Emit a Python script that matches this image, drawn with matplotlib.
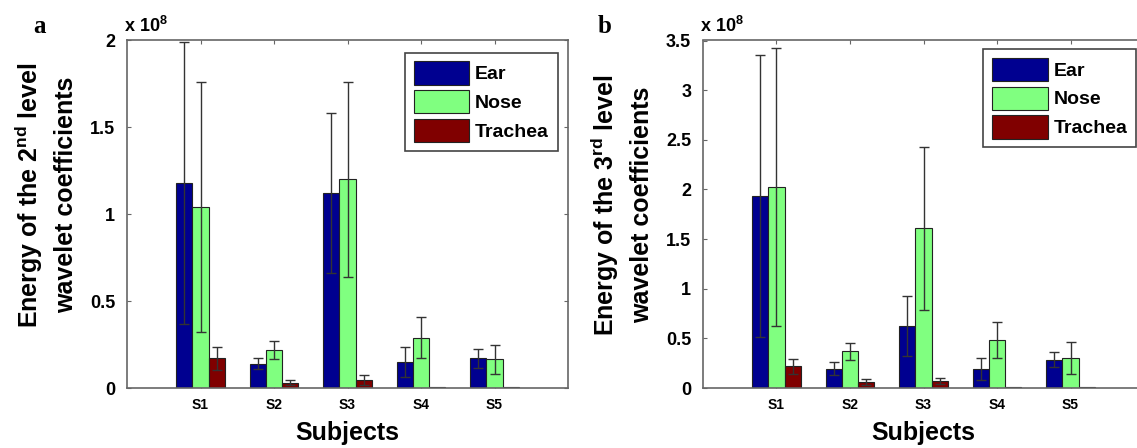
import matplotlib
matplotlib.use("Agg")
import matplotlib.pyplot as plt
import numpy as np
from matplotlib.ticker import FormatStrFormatter

plt.rcParams['font.family'] = ['Liberation Sans', 'DejaVu Sans']
plt.rcParams['font.weight'] = 'bold'
plt.rcParams['mathtext.default'] = 'regular'

# values in units of 1e8
subjects = ["S1", "S2", "S3", "S4", "S5"]
series = ["Ear", "Nose", "Trachea"]
colors = ["#000090", "#80ff80", "#800000"]

ear_a = [1.18, 0.14, 1.12, 0.15, 0.17]
ear_a_err = [0.81, 0.033, 0.46, 0.087, 0.053]
nose_a = [1.04, 0.22, 1.20, 0.29, 0.165]
nose_a_err = [0.72, 0.053, 0.56, 0.116, 0.085]
trachea_a = [0.17, 0.03, 0.045, 0.004, 0.004]
trachea_a_err = [0.068, 0.015, 0.03, 0.0, 0.0]

ear_b = [1.93, 0.195, 0.625, 0.195, 0.285]
ear_b_err = [1.42, 0.064, 0.30, 0.11, 0.075]
nose_b = [2.02, 0.37, 1.61, 0.48, 0.30]
nose_b_err = [1.40, 0.087, 0.82, 0.18, 0.163]
trachea_b = [0.22, 0.057, 0.067, 0.01, 0.01]
trachea_b_err = [0.075, 0.03, 0.03, 0.0, 0.0]

W, H = 1137, 448
fig = plt.figure(figsize=(W / 100, H / 100), dpi=100)


def draw_panel(left_px, vals, errs, ymax, yticks, ylab1, legend_xy, ylab_y):
    ax = fig.add_axes([left_px / W, 60 / H, 441 / W, 347.5 / H])
    x = np.arange(1, len(subjects) + 1)
    width = 0.22
    offsets = [-0.22, 0.0, 0.22]
    for v, e, c, off, name in zip(vals, errs, colors, offsets, series):
        e = np.array(e)
        ax.bar(x + off, v, width, color=c, edgecolor="#222222", linewidth=0.8,
               label=name, zorder=2)
        mask = e > 0
        ax.errorbar((x + off)[mask], np.array(v)[mask], yerr=e[mask], fmt="none",
                    ecolor="#333333", elinewidth=1.0, capsize=3.5, capthick=1.0,
                    zorder=3)
    ax.set_xlim(0, 6)
    ax.set_ylim(0, ymax)
    ax.set_xticks(x)
    ax.set_xticklabels(subjects, fontsize=10, fontweight="bold")
    ax.set_yticks(yticks)
    ax.yaxis.set_major_formatter(FormatStrFormatter("%g"))
    for lab in ax.get_yticklabels():
        lab.set_fontsize(13)
        lab.set_fontweight("bold")
    ax.tick_params(axis="both", direction="in", top=True, right=True,
                   length=3, color="#666666")
    ax.tick_params(axis="y", pad=8.5)
    ax.tick_params(axis="x", pad=7)
    for s in ax.spines.values():
        s.set_color("#666666")
        s.set_linewidth(1.2)
    ax.set_xlabel("Subjects", fontsize=18, fontweight="bold", labelpad=7)

    leg = ax.legend(loc="upper right", bbox_to_anchor=legend_xy, borderaxespad=0,
                    handlelength=2.85, handleheight=1.45,
                    labelspacing=0.3, handletextpad=0.3, borderpad=0.45,
                    fancybox=False, framealpha=1, prop={"size": 14, "weight": "bold"})
    leg.get_frame().set_edgecolor("#444444")
    leg.get_frame().set_linewidth(1.2)

    ax.text(-3 / 441, 1.012, r"x 10$^{8}$", transform=ax.transAxes,
            fontsize=13, fontweight="bold", ha="left", va="bottom")

    yc = 1 - ylab_y / H
    fig.text((left_px - 82) / W, yc, ylab1, rotation=90, ha="right", va="center",
             fontsize=18, fontweight="bold")
    fig.text((left_px - 49) / W, yc, "wavelet coefficients", rotation=90,
             ha="right", va="center", fontsize=18, fontweight="bold")
    return ax


draw_panel(127, [ear_a, nose_a, trachea_a], [ear_a_err, nose_a_err, trachea_a_err],
           2.0, [0, 0.5, 1, 1.5, 2], r"Energy of the 2$^{nd}$ level", (0.977, 0.965), 195)
draw_panel(703, [ear_b, nose_b, trachea_b], [ear_b_err, nose_b_err, trachea_b_err],
           3.5, [0, 0.5, 1, 1.5, 2, 2.5, 3, 3.5], r"Energy of the 3$^{rd}$ level",
           (0.982, 0.976), 205)

fig.text(39 / W, 1 - 33 / H, "a", family="Liberation Serif", fontsize=18,
         fontweight="bold", ha="center", va="baseline")
fig.text(605 / W, 1 - 33 / H, "b", family="Liberation Serif", fontsize=18,
         fontweight="bold", ha="center", va="baseline")

fig.savefig("out.png", dpi=100)
